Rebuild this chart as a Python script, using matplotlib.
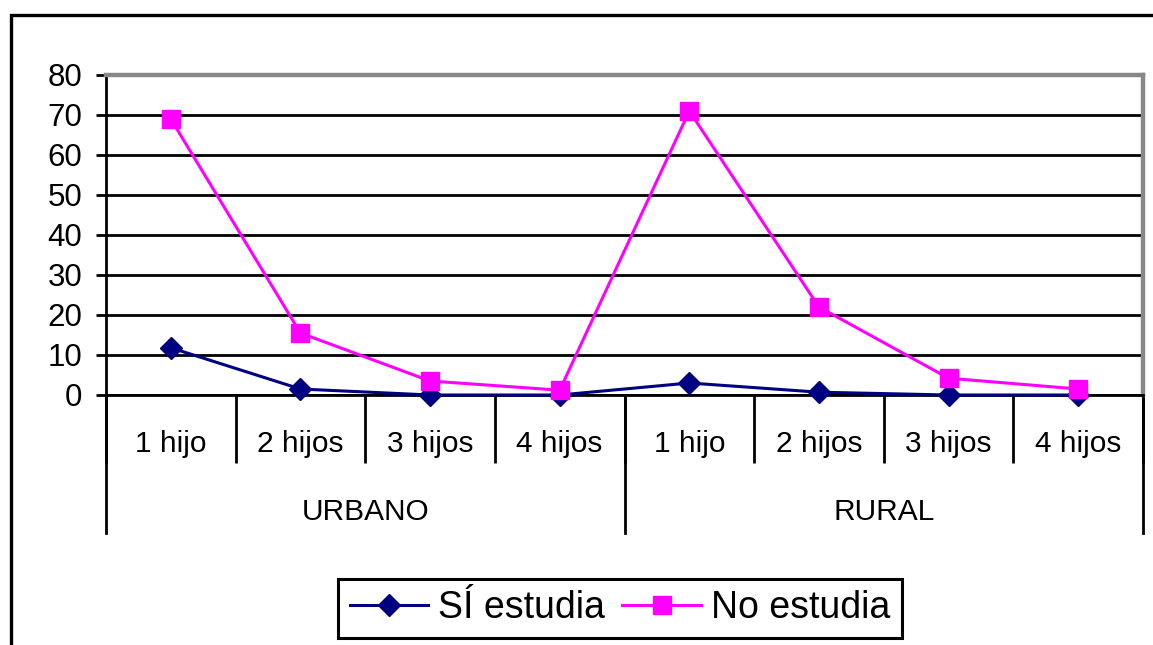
import matplotlib.pyplot as plt
from matplotlib.patches import Rectangle

plt.rcParams['font.family'] = ['Liberation Sans', 'DejaVu Sans']

grupos = ['URBANO', 'RURAL']
hijos = ['1 hijo', '2 hijos', '3 hijos', '4 hijos']
si_estudia = [11.8, 1.5, 0, 0, 3, 0.7, 0, 0]
no_estudia = [69, 15.5, 3.5, 1.2, 71, 22, 4.2, 1.5]

categorias = hijos * len(grupos)
x = list(range(len(categorias)))

fig = plt.figure(figsize=(11.53, 6.45), dpi=100)
ax = fig.add_axes([106 / 1153, 1 - 395 / 645, 1037 / 1153, 320 / 645])

# outer chart border (cut off at right and bottom)
fig.patches.append(Rectangle((11 / 1153, -0.1), 1.2, 1 - 15 / 645 + 0.1,
                             transform=fig.transFigure, fill=False,
                             edgecolor='black', linewidth=2.4))

ax.plot(x, si_estudia, color='#000080', marker='D', markersize=11,
        linewidth=2.2, label='SÍ estudia', clip_on=False, zorder=4)
ax.plot(x, no_estudia, color='#FF00FF', marker='s', markersize=13,
        linewidth=2.2, label='No estudia', clip_on=False, zorder=5)

ax.set_xlim(-0.5, len(x) - 0.5)
ax.set_ylim(0, 80)
ax.set_yticks(range(0, 81, 10))
ax.yaxis.grid(True, color='black', linewidth=2)
ax.set_axisbelow(True)
ax.tick_params(axis='y', labelsize=22.5, length=7, width=2, pad=10,
               direction='out')

for s in ['top', 'right']:
    ax.spines[s].set_color('#888888')
    ax.spines[s].set_linewidth(3.2)
for s in ['left', 'bottom']:
    ax.spines[s].set_color('black')
    ax.spines[s].set_linewidth(2)

# first level: number of children
ax.set_xticks(x, categorias)
ax.tick_params(axis='x', length=0, labelsize=21.5, pad=25)
ax.set_xticks([i - 0.5 for i in range(len(x) + 1)], minor=True)
ax.tick_params(axis='x', which='minor', length=49, width=2,
               direction='out', color='black')

# second level: area
tr = ax.get_xaxis_transform()
n = len(hijos)
for g in range(len(grupos) + 1):
    xb = g * n - 0.5
    ax.plot([xb, xb], [0, -138 / 320], color='black', linewidth=2,
            transform=tr, clip_on=False)
for g, nombre in enumerate(grupos):
    xc = g * n + (n - 1) / 2
    ax.text(xc, -117 / 320, nombre, transform=tr, ha='center', va='center',
            fontsize=21.5)

leg = fig.legend(loc='center', bbox_to_anchor=(620 / 1153, 1 - 608.5 / 645),
                 ncol=2, fontsize=27, frameon=True, fancybox=False,
                 edgecolor='black', framealpha=1, handlelength=2.1,
                 columnspacing=0.45, handletextpad=0.27, borderpad=0.3,
                 borderaxespad=0)
leg.get_frame().set_linewidth(2.2)

fig.savefig('out.png', dpi=100)
